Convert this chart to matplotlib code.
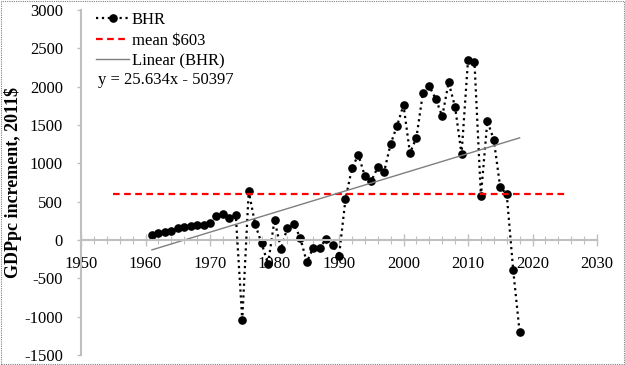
import matplotlib.pyplot as plt
from matplotlib.patches import Rectangle
from matplotlib.ticker import MultipleLocator

# GDP per capita increment, Bahrain (2011$)
years = list(range(1961, 2019))
bhr = [65, 87, 100, 121, 152, 174, 187, 196, 200, 226,
       317, 339, 283, 322, -1043, 639, 204, -43, -313, 261,
       -117, 160, 204, 30, -290, -100, -100, 10, -60, -210,
       530, 935, 1112, 834, 769, 948, 891, 1252, 1490, 1760,
       1134, 1334, 1912, 2004, 1842, 1612, 2056, 1734, 1121, 2343,
       2325, 576, 1551, 1308, 685, 602, -387, -1199]

mean_value = 603
mean_span = [1955, 2025]
slope = 25.634
intercept = -50397

plt.rcParams['font.family'] = ['Liberation Serif', 'DejaVu Serif']
plt.rcParams['font.size'] = 12
plt.rcParams['axes.unicode_minus'] = False

W, H = 625, 365
fig = plt.figure(figsize=(W / 100, H / 100), dpi=100)
ax = fig.add_axes([81 / W, 10 / H, 516 / W, 345 / H])

ax.plot(years, bhr, color='black', linestyle=':', linewidth=1.6,
        marker='o', markersize=5.2, label='BHR')
ax.plot(mean_span, [mean_value, mean_value], color='#ff0000',
        linestyle=(0, (3, 2)), linewidth=1.6, label='mean $603')
trend_x = [years[0], years[-1]]
trend_y = [slope * x + intercept for x in trend_x]
ax.plot(trend_x, trend_y, color='#7f7f7f', linewidth=1.0, label='Linear (BHR)')

ax.set_xlim(1950, 2030)
ax.set_ylim(-1500, 3000)
ax.xaxis.set_major_locator(MultipleLocator(10))
ax.xaxis.set_minor_locator(MultipleLocator(2))
ax.yaxis.set_major_locator(MultipleLocator(500))

for side in ['top', 'right']:
    ax.spines[side].set_visible(False)
ax.spines['bottom'].set_position(('data', 0))
for side in ['bottom', 'left']:
    ax.spines[side].set_color('#bfbfbf')
    ax.spines[side].set_linewidth(1.5)

ax.tick_params(axis='x', which='major', direction='inout', length=9,
               color='#bfbfbf', width=1, pad=7)
ax.tick_params(axis='x', which='minor', direction='inout', length=6,
               color='#bfbfbf', width=0.8)
ax.tick_params(axis='y', which='major', direction='out', length=3,
               color='#bfbfbf', width=1, pad=10)

ax.set_ylabel('GDPpc increment, 2011$', fontweight='bold', fontsize=13)
ax.yaxis.set_label_coords(-0.114, 0.5)
ax.patch.set_alpha(0)

ax.legend(loc='upper left', bbox_to_anchor=(96 / W, 1 - 12 / H),
          bbox_transform=fig.transFigure, frameon=False,
          handlelength=2.0, handletextpad=0.15, labelspacing=0.28,
          borderaxespad=0, borderpad=0)
fig.text(98 / W, 1 - 80 / H, 'y = 25.634x - 50397', fontsize=12,
         va='center', ha='left')

fig.patches.append(Rectangle((0.002, 0.003), 0.996, 0.994, transform=fig.transFigure,
                             fill=False, edgecolor='#808080', linestyle=(0, (1, 1)),
                             linewidth=0.8))

fig.savefig('out.png', dpi=100)
